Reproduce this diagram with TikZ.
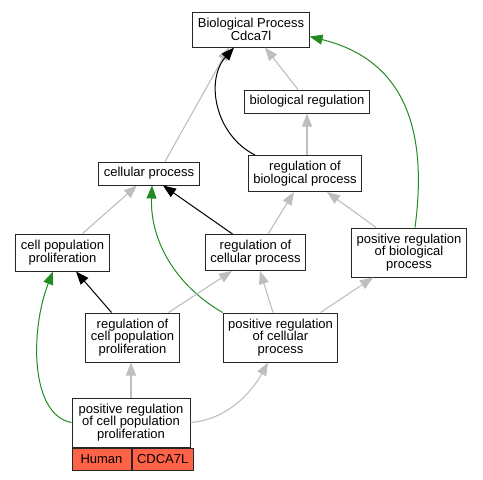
\documentclass[tikz,border=0pt]{standalone}
\usepackage{fontspec}
\setmainfont{Liberation Sans}
\usetikzlibrary{arrows.meta,positioning}
\definecolor{edgegray}{RGB}{190,190,190}
\definecolor{edgegreen}{RGB}{34,139,34}
\definecolor{orgred}{RGB}{255,99,71}

\begin{document}
\begin{tikzpicture}[x=1pt,y=-1pt,
    term/.style={draw=black!85, line width=1pt, fill=white, align=center,
      inner xsep=5pt, inner ysep=0pt, font=\fontsize{13}{12.5}\selectfont},
    orgtag/.style={term, fill=orgred, minimum width=59pt, minimum height=22pt},
    isa/.style={-{Triangle[length=13pt,width=10pt]}, edgegray, line width=1.1pt},
    part/.style={-{Triangle[length=13pt,width=10pt]}, black, line width=1pt},
    posreg/.style={-{Triangle[length=13pt,width=10pt]}, edgegreen, line width=1pt}]
    \useasboundingbox (0,0) rectangle (483,480);

    % Draw terms
    \node[term, minimum height=35pt] (bp) at (251,29.5) {Biological Process\\Cdca7l};
    \node[term, minimum height=23pt] (br) at (307,101.5) {biological regulation};
    \node[term, minimum height=23pt] (cp) at (149,173.5) {cellular process};
    \node[term, minimum height=36pt] (rbp) at (305,173.5) {regulation of\\biological process};
    \node[term, minimum height=37pt] (cpp) at (62.5,252.5) {cell population\\proliferation};
    \node[term, minimum height=36pt] (rcp) at (255.5,252.5) {regulation of\\cellular process};
    \node[term, minimum height=49pt] (prbp) at (409,252.5) {positive regulation\\of biological\\process};
    \node[term, minimum height=49pt] (rcpp) at (132.5,337.5) {regulation of\\cell population\\proliferation};
    \node[term, minimum height=49pt] (prcp) at (280.5,337.5) {positive regulation\\of cellular\\process};
    \node[term, minimum height=49pt, minimum width=118pt] (pcpp) at (131,422.5) {positive regulation\\of cell population\\proliferation};

    % Organism and gene row below the query term
    \node[orgtag, anchor=north west] (human) at (pcpp.south west) {Human};
    \node[orgtag, anchor=north west] (gene) at (human.north east) {CDCA7L};

    % Draw edges
    \draw[isa] ([xshift=16pt]cp.north) -- ([xshift=-22pt]bp.south);
    \draw[part] ([xshift=-50pt]rbp.north) .. controls (215,135) and (205,80) .. ([xshift=-17pt]bp.south);
    \draw[isa] ([xshift=-9pt]br.north) -- ([xshift=14pt]bp.south);
    \draw[isa] ([xshift=2pt]rbp.north) -- (br.south);
    \draw[posreg] ([xshift=6pt]prbp.north) .. controls (428,130) and (405,60) .. ([yshift=-7pt]bp.east);
    \draw[isa] ([xshift=20pt]cpp.north) -- ([xshift=-12pt]cp.south);
    \draw[part] ([xshift=-23pt]rcp.north) -- ([xshift=14pt]cp.south);
    \draw[posreg] (prcp.north west) .. controls (175,285) and (150,240) .. ([xshift=3pt]cp.south);
    \draw[isa] ([xshift=12.5pt]rcp.north) -- ([xshift=-11pt]rbp.south);
    \draw[isa] ([xshift=-33pt]prbp.north) -- ([xshift=22pt]rbp.south);
    \draw[part] ([xshift=-21pt]rcpp.north) -- ([xshift=13.5pt]cpp.south);
    \draw[isa] ([xshift=36pt]rcpp.north) -- ([xshift=-23.5pt]rcp.south);
    \draw[isa] ([xshift=-7.5pt]prcp.north) -- ([xshift=4.5pt]rcp.south);
    \draw[isa] ([xshift=40pt]prcp.north) -- ([xshift=-36pt]prbp.south);
    \draw[isa] (pcpp.north) -- (pcpp.north |- rcpp.south);
    \draw[posreg] (pcpp.west) .. controls (30,415) and (30,330) .. ([xshift=-9.5pt]cpp.south);
    \draw[isa] (pcpp.east) .. controls (225,420) and (250,395) .. ([xshift=-12.5pt]prcp.south);
\end{tikzpicture}
\end{document}
